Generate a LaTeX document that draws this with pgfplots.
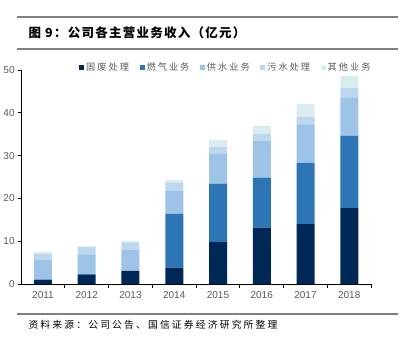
\documentclass[border=0pt]{standalone}
\usepackage{pgfplots}
\pgfplotsset{compat=1.18}
\usepackage{fontspec}
\setmainfont{Liberation Sans}
\newfontfamily\cjk{Noto Sans CJK SC}
\newfontfamily\cjks[LetterSpace=22]{Noto Sans CJK SC}
\newfontfamily\cjkt[LetterSpace=10]{Noto Sans CJK SC}
\definecolor{c1}{HTML}{002856}
\definecolor{c2}{HTML}{2E75B6}
\definecolor{c3}{HTML}{9DC3E6}
\definecolor{c4}{HTML}{BDD7EE}
\definecolor{c5}{HTML}{DAEDEE}
\definecolor{tk}{HTML}{595959}
\definecolor{rule}{HTML}{7F7F7F}
\begin{document}
\begin{tikzpicture}[x=1pt,y=1pt]
\path[use as bounding box] (0,0) rectangle (408,341);
\draw[rule,line width=1.2pt] (17,324) -- (398,324);
\draw[rule,line width=1.2pt] (17,292) -- (398,292);
\draw[rule,line width=1.2pt] (17,27) -- (398,27);
\node[anchor=west,font=\cjkt\bfseries\fontsize{12.5}{14}\selectfont] at (25,308) {图 9：公司各主营业务收入（亿元）};
\node[anchor=west,font=\cjks\fontsize{9.8}{11}\selectfont] at (25,16) {资料来源：公司公告、国信证券经济研究所整理};
\begin{axis}[
  at={(43pt,57pt)}, anchor=origin,
  scale only axis, width=350pt, height=214pt,
  ybar stacked, bar width=18pt,
  xmin=-0.5, xmax=7.5, ymin=0, ymax=50,
  axis x line=bottom, axis y line=left,
  axis line style={black, line width=0.8pt, -},
  xtick={0,...,7},
  xticklabels={2011,2012,2013,2014,2015,2016,2017,2018},
  major x tick style={draw=none},
  minor xtick={0.5,1.5,...,7.5},
  minor tick length=4pt,
  minor x tick style={black, line width=0.8pt},
  xtick align=outside,
  ytick={0,10,...,50},
  ytick align=outside,
  major tick length=3pt,
  y tick style={black, line width=0.8pt},
  tick label style={font=\fontsize{10}{12}\selectfont, text=tk},
  /pgf/number format/assume math mode=true,
  xticklabel style={yshift=-1pt},
  legend columns=5,
  legend style={at={(0.585,1.014)}, anchor=center, draw=none, fill=none,
    font=\cjks\fontsize{9.2}{10}\selectfont, text=tk,
    /tikz/every even column/.append style={column sep=8.5pt}},
  legend image code/.code={\fill[#1] (0pt,-2.5pt) rectangle (5pt,2.5pt);},
]
\addplot[fill=c1, draw=none] coordinates {(0,1.0) (1,2.2) (2,3.0) (3,3.8) (4,9.8) (5,13.2) (6,14.0) (7,17.7)};
\addplot[fill=c2, draw=none] coordinates {(0,0) (1,0.1) (2,0.1) (3,12.6) (4,13.6) (5,11.6) (6,14.3) (7,16.9)};
\addplot[fill=c3, draw=none] coordinates {(0,4.7) (1,4.6) (2,4.8) (3,5.4) (4,7.0) (5,8.7) (6,9.0) (7,9.0)};
\addplot[fill=c4, draw=none] coordinates {(0,1.4) (1,1.7) (2,1.8) (3,1.9) (4,1.7) (5,1.6) (6,1.8) (7,2.3)};
\addplot[fill=c5, draw=none] coordinates {(0,0.4) (1,0.2) (2,0.3) (3,0.6) (4,1.5) (5,1.8) (6,3.0) (7,2.7)};
\legend{固废处理,燃气业务,供水业务,污水处理,其他业务}
\end{axis}
\end{tikzpicture}
\end{document}
